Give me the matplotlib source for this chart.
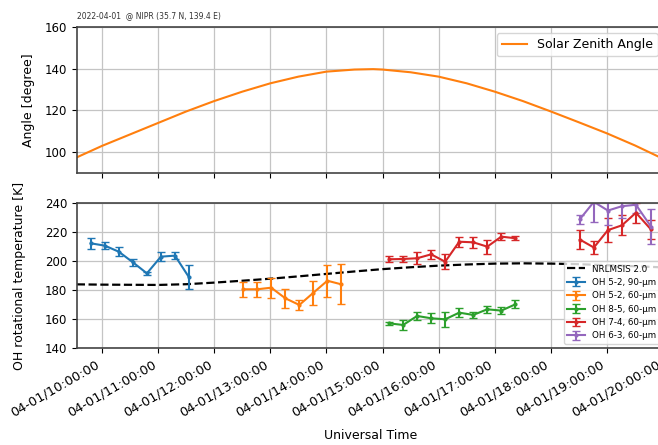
import matplotlib
matplotlib.use("Agg")
import matplotlib.pyplot as plt
import matplotlib.dates as mdates
import pandas as pd

DAY = "2022-04-01 "

# Solar zenith angle
sza_time = ["09:33", "10:00", "10:30", "11:00", "11:30", "12:00", "12:30", "13:00", "13:30",
            "14:00", "14:30", "14:50", "15:00", "15:30", "16:00", "16:30", "17:00", "17:30",
            "18:00", "18:30", "19:00", "19:30", "20:00", "20:02"]
sza_val = [97.5, 103.0, 108.5, 114.0, 119.5, 124.5, 129.0, 133.0, 136.2,
           138.6, 139.6, 139.8, 139.6, 138.3, 136.2, 133.0, 129.0, 124.5,
           119.5, 114.3, 109.0, 103.2, 96.8, 96.5]

# NRLMSIS 2.0 model temperature
msis_time = ["09:33", "10:00", "11:00", "11:30", "12:00", "12:30", "13:00", "13:30", "14:00",
             "14:30", "15:00", "15:30", "16:00", "16:30", "17:00", "17:30", "18:00", "18:30",
             "19:00", "19:30", "20:00", "20:02"]
msis_val = [184.1, 183.9, 183.7, 184.2, 185.3, 186.6, 188.0, 189.6, 191.3,
            193.0, 194.6, 195.9, 197.0, 197.8, 198.4, 198.6, 198.4, 198.0,
            197.3, 196.6, 195.8, 195.7]

# OH 5-2, 90-um
b_time = ["09:48", "10:03", "10:18", "10:33", "10:48", "11:03", "11:18", "11:33"]
b_val = [212.4, 210.8, 206.6, 199.3, 191.7, 203.2, 203.9, 189.0]
b_err = [3.7, 2.4, 3.2, 2.6, 1.2, 3.2, 2.3, 8.2]

# OH 5-2, 60-um
o_time = ["12:31", "12:46", "13:01", "13:16", "13:31", "13:46", "14:01", "14:16"]
o_val = [180.7, 180.7, 181.8, 174.5, 169.9, 178.3, 186.6, 184.1]
o_err = [5.0, 5.0, 6.8, 6.6, 3.4, 8.3, 11.0, 13.8]

# OH 8-5, 60-um
g_time = ["15:07", "15:22", "15:37", "15:52", "16:07", "16:22", "16:37", "16:52", "17:07", "17:22"]
g_val = [157.2, 156.1, 162.3, 160.7, 160.0, 164.6, 163.0, 166.9, 166.0, 170.3]
g_err = [0.8, 3.4, 2.8, 3.4, 5.3, 3.0, 2.0, 2.3, 2.3, 2.8]

# OH 7-4, 60-um (two sessions)
r_time = ["15:07", "15:22", "15:37", "15:52", "16:07", "16:22", "16:37", "16:52", "17:07", "17:22",
          "18:31", "18:46", "19:01", "19:16", "19:31", "19:47"]
r_val = [201.4, 201.6, 202.1, 204.8, 199.7, 213.5, 213.1, 210.1, 217.0, 215.9,
         215.0, 209.5, 221.5, 224.8, 233.5, 222.0]
r_err = [2.0, 2.0, 4.0, 3.0, 5.0, 3.4, 3.6, 4.8, 2.5, 1.5,
         6.6, 4.5, 8.5, 7.0, 7.0, 6.5]

# OH 6-3, 60-um
p_time = ["18:31", "18:46", "19:01", "19:16", "19:31", "19:47"]
p_val = [229.0, 241.0, 235.0, 238.0, 239.0, 224.0]
p_err = [3.0, 14.0, 10.0, 8.0, 6.0, 12.0]

labels = ["OH 5-2, 90-\u00b5m", "OH 5-2, 60-\u00b5m", "OH 8-5, 60-\u00b5m",
          "OH 7-4, 60-\u00b5m", "OH 6-3, 60-\u00b5m"]


def to_dt(lst):
    return pd.to_datetime([DAY + t for t in lst])


W, H = 658, 445
fig = plt.figure(figsize=(W / 100, H / 100), dpi=100)

left_px, right_px = 77, 664
axL = left_px / W
axW = (right_px - left_px) / W
ax1 = fig.add_axes([axL, (H - 173) / H, axW, 146 / H])
ax2 = fig.add_axes([axL, (H - 348.3) / H, axW, 145 / H], sharex=ax1)

FS = 8.5
GRID = "#c4c4c4"

ax1.plot(to_dt(sza_time), sza_val, color="#ff7f0e", lw=1.5, label="Solar Zenith Angle")
ax1.set_ylim(90, 160)
ax1.set_yticks([100, 120, 140, 160])
ax1.set_ylabel("Angle [degree]", fontsize=9)
ax1.legend(loc="upper right", fontsize=9, framealpha=0.8)
ax1.grid(True, color=GRID, lw=0.9)
ax1.tick_params(labelbottom=False, labelsize=FS)

ax2.plot(to_dt(msis_time), msis_val, "k--", lw=1.6, label="NRLMSIS 2.0")

kw = dict(fmt=".-", capsize=3, ms=4, lw=1.5, elinewidth=1.5)
ax2.errorbar(to_dt(b_time), b_val, yerr=b_err, color="#1f77b4", label=labels[0], **kw)
ax2.errorbar(to_dt(o_time), o_val, yerr=o_err, color="#ff7f0e", label=labels[1], **kw)
ax2.errorbar(to_dt(g_time), g_val, yerr=g_err, color="#2ca02c", label=labels[2], **kw)

# red: two separate sessions, single legend entry
rt = to_dt(r_time)
ax2.errorbar(rt[:10], r_val[:10], yerr=r_err[:10], color="#d62728", label=labels[3], **kw)
ax2.errorbar(rt[10:], r_val[10:], yerr=r_err[10:], color="#d62728", **kw)
ax2.errorbar(to_dt(p_time), p_val, yerr=p_err, color="#9467bd", label=labels[4], **kw)

ax2.set_ylim(140, 240)
ax2.set_yticks([140, 160, 180, 200, 220, 240])
ax2.set_ylabel("OH rotational temperature [K]", fontsize=9)
ax2.set_xlabel("Universal Time", fontsize=9, labelpad=7)
ax2.legend(loc="lower right", fontsize=6.3, framealpha=0.8)
ax2.grid(True, color=GRID, lw=0.9)
ax2.tick_params(axis="y", labelsize=FS)
ax2.tick_params(axis="x", labelsize=9.3)

ax2.set_xlim(pd.Timestamp(DAY + "09:33:15"), pd.Timestamp(DAY + "20:01:00"))
ax2.xaxis.set_major_locator(mdates.HourLocator())
ax2.xaxis.set_major_formatter(mdates.DateFormatter("%m-%d/%H:%M:%S"))
plt.setp(ax2.get_xticklabels(), rotation=30, ha="right")

ax1.yaxis.set_label_coords(-0.0715, 0.5)
ax2.yaxis.set_label_coords(-0.087, 0.5)

for ax in (ax1, ax2):
    for s in ax.spines.values():
        s.set_color("#444444")
        s.set_linewidth(1.2)

fig.text(axL, (H - 16) / H, "2022-04-01  @ NIPR (35.7 N, 139.4 E)", fontsize=5.5,
         color="#333333", va="center", ha="left")

fig.savefig("out.png", dpi=100)
